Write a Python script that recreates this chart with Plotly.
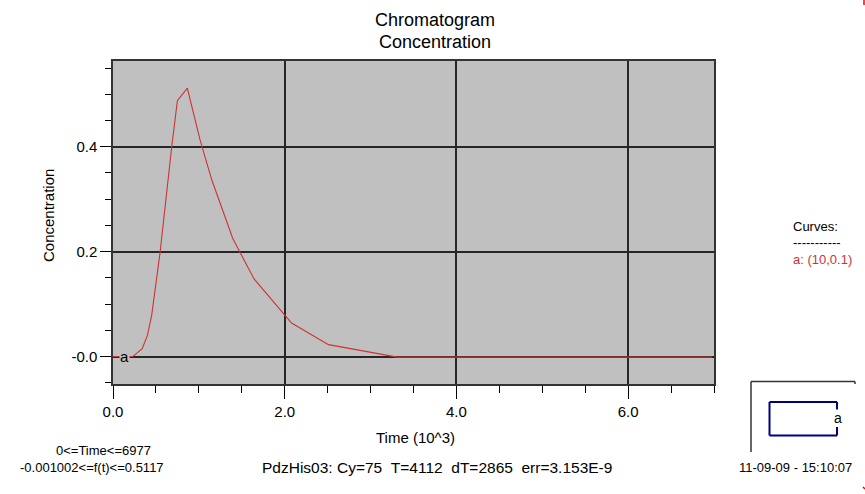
import plotly.graph_objects as go

# ---- data (time in 10^3, concentration) ----
time_k = [0.0, 0.23, 0.34, 0.40, 0.45, 0.49, 0.52, 0.548, 0.684, 0.75, 0.866,
          1.014, 1.15, 1.395, 1.643, 2.08, 2.51, 3.31, 6.977]
conc = [0.0, 0.0, 0.015, 0.040, 0.078, 0.129, 0.167, 0.198, 0.40, 0.488, 0.5117,
        0.413, 0.337, 0.225, 0.148, 0.064, 0.0227, -0.001, -0.001]

y_tickvals = [0.0, 0.2, 0.4]
y_ticktext = ["-0.0", "0.2", "0.4"]
x_tickvals = [0.0, 2.0, 4.0, 6.0]
x_ticktext = ["0.0", "2.0", "4.0", "6.0"]

title_lines = ["Chromatogram", "Concentration"]
x_title = "Time (10^3)"
y_title = "Concentration"
curve_label = "a"
legend_lines = ["Curves:", "-----------", "a: (10,0.1)"]
info_left = ["0<=Time<=6977", "-0.001002<=f(t)<=0.5117"]
info_mid = "PdzHis03: Cy=75\u00a0\u00a0T=4112\u00a0\u00a0dT=2865\u00a0\u00a0err=3.153E-9"
stamp = "11-09-09 - 15:10:07"

W, H = 865, 494
L, R, T, B = 113, 714, 61, 384
FONT = "Liberation Sans, Arial, sans-serif"
RED = "#cc3333"
GRID = "#262626"


def px(xp):
    return (xp - L) / (R - L)


def py(yp):
    return (B - yp) / (B - T)


fig = go.Figure()
fig.add_trace(go.Scatter(x=time_k, y=conc, mode="lines",
                         line=dict(color=RED, width=1.1), showlegend=False,
                         hoverinfo="skip"))

fig.update_layout(
    width=W, height=H,
    margin=dict(l=L, r=W - R, t=T, b=H - B),
    paper_bgcolor="white", plot_bgcolor="#c0c0c0",
    font=dict(family=FONT, size=15, color="black"),
    showlegend=False,
)

fig.update_xaxes(
    range=[0, 7], tickmode="array", tickvals=x_tickvals, ticktext=x_ticktext,
    ticks="outside", ticklen=13, tickwidth=1, tickcolor="black",
    showgrid=True, gridcolor=GRID, gridwidth=1.5, zeroline=False,
    showline=True, linecolor="#333333", linewidth=1.5, mirror=True,
    tickfont=dict(size=15),
    minor=dict(tickmode="linear", tick0=0, dtick=0.5, ticks="outside",
               ticklen=7, tickcolor="black", showgrid=False),
)
fig.update_yaxes(
    range=[-0.0523, 0.5635], tickmode="array", tickvals=y_tickvals, ticktext=y_ticktext,
    ticks="outside", ticklen=11, tickwidth=1, tickcolor="black",
    showgrid=True, gridcolor=GRID, gridwidth=1.5, zeroline=False,
    showline=True, linecolor="#333333", linewidth=1.5, mirror=True,
    tickfont=dict(size=15),
    minor=dict(tickmode="linear", tick0=0, dtick=0.05, ticks="outside",
               ticklen=6, tickcolor="black", showgrid=False),
)

ann = []


def text(x, y, s, size=15, color="black", xanchor="center", angle=0, bg=None):
    d = dict(x=px(x), y=py(y), xref="paper", yref="paper", text=s, showarrow=False,
             xanchor=xanchor, yanchor="middle", textangle=angle,
             font=dict(family=FONT, size=size, color=color))
    if bg:
        d["bgcolor"] = bg
        d["borderpad"] = 0
    ann.append(d)


text(435, 20, title_lines[0], size=18)
text(435, 42, title_lines[1], size=18)
text(415, 437, x_title, size=15)
text(48, 216, y_title, size=15, angle=-90)
text(103, 450, info_left[0], size=13)
text(92, 467, info_left[1], size=13)
text(437, 467, info_mid, size=15.5)
text(795, 467, stamp, size=13)
text(791, 226, legend_lines[0], size=13, xanchor="left")
text(791, 242, legend_lines[1], size=13, xanchor="left")
text(791, 259, legend_lines[2], size=13, color=RED, xanchor="left")

# curve label on the plot (data coordinates)
ann.append(dict(x=0.13, y=0.0, xref="x", yref="y", text=curve_label, showarrow=False,
                xanchor="center", yanchor="middle", bgcolor="#c0c0c0", borderpad=0,
                font=dict(family=FONT, size=15, color="black")))
# curve label in the key box
text(838, 418, curve_label, size=14, bg="white")

fig.update_layout(annotations=ann)

shapes = []


def seg(x0, y0, x1, y1, color, width):
    shapes.append(dict(type="line", xref="paper", yref="paper",
                       x0=px(x0), y0=py(y0), x1=px(x1), y1=py(y1),
                       line=dict(color=color, width=width)))


# bracket frame of the key
seg(751, 381.5, 751, 452, "#333333", 1.5)
seg(751, 381.5, 855, 381.5, "#333333", 1.5)
seg(855, 381.5, 855, 384, "#333333", 1.5)
# blue key rectangle (right side broken by label)
BLUE = "#000080"
seg(769.5, 402, 837, 402, BLUE, 2)
seg(769.5, 435.5, 837, 435.5, BLUE, 2)
seg(769.5, 402, 769.5, 435.5, BLUE, 2)
seg(837, 402, 837, 410, BLUE, 2)
seg(837, 427, 837, 435.5, BLUE, 2)
# tiny red corner marks
seg(864, 0, 864, 5, "red", 1.5)
seg(863, 487, 865, 489, "red", 1.5)

fig.update_layout(shapes=shapes)

fig.write_html("out.html", config={"displayModeBar": False},
               post_script="document.body.style.margin='0';document.body.style.overflow='hidden';")
